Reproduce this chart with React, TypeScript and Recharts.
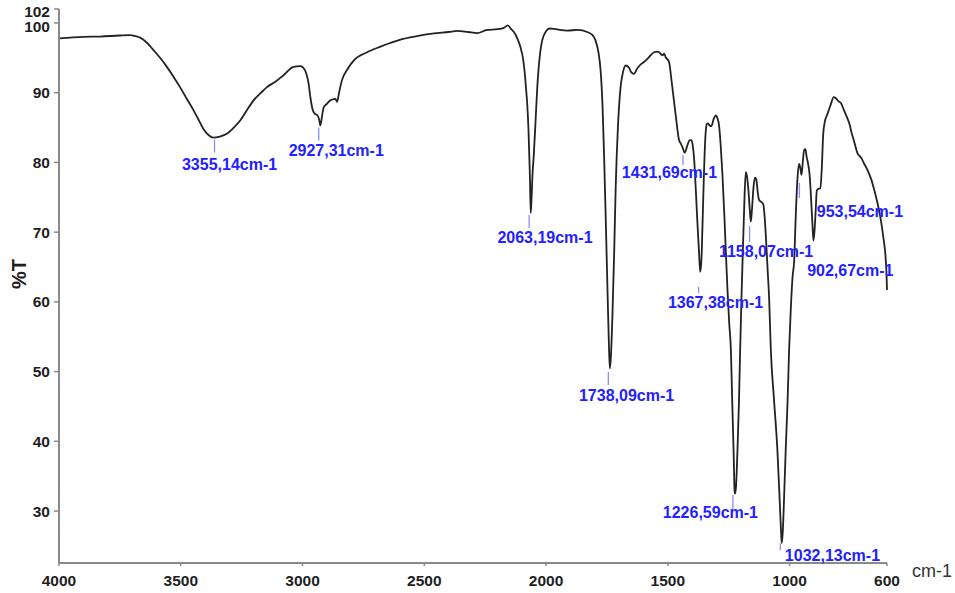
import React from 'react';
import { ComposedChart, Line, Scatter, XAxis, YAxis, Label } from 'recharts';

// ---- Data ----
const wavenumbers = [
  4000, 3900, 3831, 3750, 3708, 3685, 3667, 3640, 3612, 3585, 3557, 3530, 3503, 3475, 3448, 3425, 3407, 3385, 3366, 3340,
  3311, 3285, 3256, 3230, 3201, 3170, 3146, 3110, 3078, 3037, 3009, 2995, 2985, 2975, 2968, 2958, 2950, 2940, 2932, 2927,
  2920, 2913, 2900, 2886, 2865, 2858, 2850, 2838, 2815, 2790, 2735, 2680, 2598, 2530, 2461, 2400, 2365, 2320, 2283, 2242,
  2200, 2173, 2157, 2145, 2132, 2118, 2105, 2095, 2088, 2082, 2077, 2072, 2068, 2066, 2063, 2060, 2056, 2050, 2043, 2036,
  2025, 2016, 2000, 1985, 1960, 1913, 1870, 1831, 1810, 1797, 1785, 1776, 1768, 1762, 1755, 1748, 1742, 1738, 1734, 1728,
  1720, 1714, 1705, 1694, 1685, 1673, 1660, 1650, 1639, 1625, 1610, 1598, 1580, 1557, 1540, 1530, 1522, 1515, 1509, 1495,
  1485, 1475, 1465, 1454, 1445, 1438, 1431, 1420, 1410, 1404, 1398, 1392, 1385, 1378, 1372, 1367, 1362, 1358, 1352, 1346,
  1340, 1335, 1328, 1321, 1312, 1303, 1296, 1290, 1283, 1276, 1268, 1262, 1255, 1248, 1241, 1235, 1230, 1226, 1224, 1220,
  1214, 1208, 1203, 1198, 1193, 1186, 1180, 1175, 1169, 1163, 1159, 1154, 1148, 1142, 1137, 1130, 1125, 1115, 1108, 1102,
  1096, 1090, 1084, 1077, 1064, 1050, 1040, 1035, 1032, 1028, 1023, 1016, 1008, 1002, 995, 988, 981, 975, 968, 961,
  956, 951, 946, 940, 935, 930, 924, 918, 912, 906, 902, 898, 893, 888, 882, 874, 868, 862, 856, 844,
  832, 819, 810, 800, 789, 778, 766, 755, 745, 735, 721, 712, 705, 695, 680, 665, 652, 638, 625, 614,
  606, 602, 600,
];

const transmittance = [
  97.8, 98.0, 98.05, 98.2, 98.25, 98.1, 97.9, 97.2, 96.1, 95.0, 93.7, 92.3, 90.8, 89.1, 87.5, 86.0, 84.8, 83.9, 83.55, 83.7,
  84.1, 84.9, 86.0, 87.4, 88.9, 90.0, 90.8, 91.6, 92.5, 93.7, 93.8, 93.5, 92.8, 91.3, 89.4, 87.5, 87.0, 86.8, 86.2, 85.3,
  86.6, 87.9, 88.4, 88.9, 89.1, 88.7, 90.0, 91.8, 93.4, 94.6, 95.8, 96.6, 97.6, 98.1, 98.5, 98.7, 98.85, 98.7, 98.55, 99.0,
  99.1, 99.3, 99.65, 99.2, 98.7, 97.8, 96.5, 95.0, 93.0, 90.5, 88.2, 84.5, 80.0, 77.5, 72.75, 74.5, 78.0, 81.3, 86.0, 90.8,
  95.5, 97.5, 98.8, 99.2, 99.1, 98.9, 99.0, 98.7, 98.3, 97.5, 95.8, 93.2, 88.0, 81.3, 72.0, 62.1, 54.0, 50.45, 52.0, 57.4,
  67.5, 76.5, 85.0, 90.8, 92.8, 93.9, 93.6, 92.9, 92.7, 93.5, 94.1, 94.4, 95.0, 95.8, 95.9, 95.6, 95.35, 95.6, 95.1, 94.4,
  91.8, 88.9, 86.0, 83.2, 82.6, 82.0, 81.4, 82.4, 83.2, 83.2, 82.5, 80.5, 76.0, 71.0, 67.2, 64.3, 66.0, 70.5, 78.0, 83.5,
  85.5, 85.6, 85.3, 85.2, 86.2, 86.75, 86.3, 85.4, 82.5, 78.4, 72.5, 67.4, 61.7, 57.0, 53.1, 45.0, 38.7, 33.0, 32.5, 33.5,
  38.7, 45.5, 53.1, 60.0, 66.0, 74.0, 78.6, 78.0, 76.0, 73.0, 71.5, 73.5, 76.5, 77.8, 77.6, 75.5, 74.6, 74.3, 74.0, 72.0,
  68.5, 64.5, 60.5, 53.1, 46.0, 38.7, 31.0, 27.0, 25.4, 27.0, 31.5, 38.7, 46.0, 53.1, 59.0, 63.5, 66.0, 72.0, 77.5, 79.8,
  79.2, 78.2, 80.0, 81.8, 81.9, 80.8, 79.8, 78.3, 75.0, 71.0, 68.8, 70.0, 73.0, 76.0, 76.2, 76.3, 79.0, 84.0, 85.7, 87.0,
  88.2, 89.35, 89.2, 88.8, 88.5, 87.6, 86.6, 85.6, 84.2, 83.0, 81.3, 80.9, 80.6, 79.9, 78.9, 77.6, 76.0, 74.0, 71.7, 69.0,
  66.5, 64.0, 61.7,
];

const xTicks = [4000, 3500, 3000, 2500, 2000, 1500, 1000, 600];
const yTicks = [30, 40, 50, 60, 70, 80, 90, 100, 102];

const peakWavenumbers = [3355.14, 2927.31, 2063.19, 1738.09, 1431.69, 1367.38, 1226.59, 1158.07, 1032.13, 953.54, 902.67];
const peakValues = [83.55, 85.3, 72.75, 50.45, 81.4, 64.3, 32.5, 71.5, 25.4, 78.2, 68.8];
const peakLabels = [
  '3355,14cm-1', '2927,31cm-1', '2063,19cm-1', '1738,09cm-1', '1431,69cm-1', '1367,38cm-1',
  '1226,59cm-1', '1158,07cm-1', '1032,13cm-1', '953,54cm-1', '902,67cm-1',
];

// ---- Styles (pixel offsets of annotation pieces relative to the peak mark) ----
const labelDx = [13.5, 16, 14.3, 16.7, -15, 15.4, -24, 15, 50.7, 59, 37];
const labelDy = [27, 25, 25, 27.5, 19.4, 30.8, 18.7, 30, 12, 36.7, 30.2];
const tickDy0 = [2, 2, 2, 3.5, 2.4, 15, 1.4, 4.3, 0, 8, 0];
const tickDy1 = [15, 15, 15, 16.5, 12.4, 21, 16.4, 20.3, 7, 23, 0];

const FONT = '"Liberation Sans", Arial, Helvetica, sans-serif';
const AXIS_COLOR = '#8a8a8a';
const TEXT_COLOR = '#1e1e1e';
const BLUE = '#2222ff';
const LIGHT_BLUE = '#8c8cff';

const lineData = wavenumbers.map((wn, i) => ({ wn, t: transmittance[i] }));
const peakData = peakWavenumbers.map((wn, i) => ({ wn, t: peakValues[i], label: peakLabels[i], idx: i }));

const XTick = (props: any) => {
  const { x, y, payload } = props;
  return (
    <text x={x} y={y + 14} textAnchor="middle" dominantBaseline="central"
      fontFamily={FONT} fontWeight="bold" fontSize={15.5} fill={TEXT_COLOR}>
      {payload.value}
    </text>
  );
};

const YTick = (props: any) => {
  const { x, y, payload } = props;
  const shift = payload.value === 100 ? 4 : payload.value === 102 ? 2.5 : 0;
  return (
    <text x={x - 4} y={y + shift} textAnchor="end" dominantBaseline="central"
      fontFamily={FONT} fontWeight="bold" fontSize={15.5} fill={TEXT_COLOR}>
      {payload.value}
    </text>
  );
};

const PeakMark = (props: any) => {
  const { cx, cy, payload } = props;
  if (cx == null || cy == null) return null;
  const i = payload.idx;
  const hasTick = tickDy1[i] > tickDy0[i];
  return (
    <g>
      {hasTick && (
        <line x1={cx - 1.5} x2={cx - 1.5} y1={cy + tickDy0[i]} y2={cy + tickDy1[i]}
          stroke={LIGHT_BLUE} strokeWidth={1.3} />
      )}
      <text x={cx + labelDx[i]} y={cy + labelDy[i]} textAnchor="middle" dominantBaseline="central"
        fontFamily={FONT} fontWeight="bold" fontSize={16} fill={BLUE}>
        {payload.label}
      </text>
    </g>
  );
};

export default function App() {
  return (
    <div style={{ position: 'fixed', left: 0, top: 0, width: 955, height: 593, background: '#fff' }}>
      <ComposedChart width={955} height={593} margin={{ top: 9, right: 68, bottom: 0, left: 0 }}>
        <XAxis
          dataKey="wn"
          type="number"
          domain={[600, 4000]}
          reversed
          ticks={xTicks}
          height={30}
          tickSize={3}
          tickMargin={0}
          tick={<XTick />}
          axisLine={{ stroke: AXIS_COLOR, strokeWidth: 2 }}
          tickLine={{ stroke: AXIS_COLOR, strokeWidth: 1.5 }}
          interval={0}
        >
          <Label
            content={(p: any) => {
              const vb = p.viewBox || { x: 59, y: 563, width: 828 };
              return (
                <text x={vb.x + vb.width + 25} y={vb.y + 8} dominantBaseline="central"
                  fontFamily={FONT} fontSize={18} fill="#333">
                  cm-1
                </text>
              );
            }}
          />
        </XAxis>
        <YAxis
          type="number"
          domain={[22.55, 102]}
          ticks={yTicks}
          width={59}
          tickSize={5}
          tickMargin={0}
          tick={<YTick />}
          axisLine={{ stroke: AXIS_COLOR, strokeWidth: 2 }}
          tickLine={{ stroke: AXIS_COLOR, strokeWidth: 1.5 }}
          interval={0}
        >
          <Label
            content={(p: any) => {
              const vb = p.viewBox || { x: 0, y: 9 };
              return (
                <text x={vb.x + 19} y={vb.y + 265} textAnchor="middle" dominantBaseline="central"
                  transform={`rotate(-90, ${vb.x + 19}, ${vb.y + 265})`}
                  fontFamily={FONT} fontWeight="bold" fontSize={20} fill={TEXT_COLOR}>
                  %T
                </text>
              );
            }}
          />
        </YAxis>
        <Line
          data={lineData}
          dataKey="t"
          type="monotone"
          stroke="#222"
          strokeWidth={1.8}
          dot={false}
          activeDot={false}
          isAnimationActive={false}
        />
        <Scatter
          data={peakData}
          dataKey="t"
          shape={<PeakMark />}
          isAnimationActive={false}
        />
      </ComposedChart>
    </div>
  );
}
